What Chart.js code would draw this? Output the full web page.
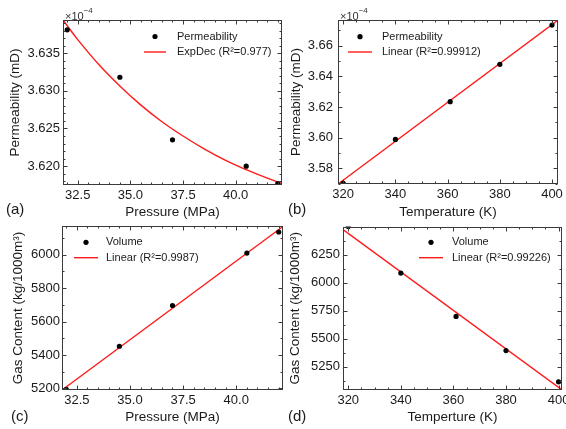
<!DOCTYPE html>
<html>
<head>
<meta charset="utf-8">
<script src="https://cdn.jsdelivr.net/npm/chart.js@4.4.1/dist/chart.umd.min.js"></script>
<style>
    html, body { margin: 0; padding: 0; background: #fff; width: 566px; height: 429px; overflow: hidden; }
    body { position: relative; font-family: 'Liberation Sans', Arial, sans-serif; color: #1a1a1a; }
    canvas { position: absolute; }
    .tag { position: absolute; font-size: 15px; line-height: 1; }
    .mult { position: absolute; font-size: 11px; line-height: 1; color: #333; }
    .mult sup { font-size: 8px; position: relative; top: -2px; }
</style>
</head>
<body>
<canvas id="perm-pressure-chart" width="290" height="222" style="left:0;top:0"></canvas>
<canvas id="perm-temp-chart" width="283" height="222" style="left:283px;top:0"></canvas>
<canvas id="gas-pressure-chart" width="290" height="214" style="left:0;top:215px"></canvas>
<canvas id="gas-temp-chart" width="300" height="214" style="left:283px;top:215px"></canvas>

<div class="mult" style="left:65px;top:9px">×10<sup>−4</sup></div>
<div class="mult" style="left:340px;top:9px">×10<sup>−4</sup></div>
<div class="tag" style="left:6px;top:201px">(a)</div>
<div class="tag" style="left:288px;top:201px">(b)</div>
<div class="tag" style="left:11px;top:408px">(c)</div>
<div class="tag" style="left:288px;top:408px">(d)</div>

<script>
// pressure runs (a, c)
const pressure = [32, 34.5, 37, 40.5, 42];
const permByPressure = [3.6381, 3.6318, 3.6235, 3.6200, 3.6177];
const expDecX = [31.8, 32.5, 33.5, 34.5, 35.5, 36.5, 37.5, 38.5, 39.5, 40.5, 41.5, 42.2];
const expDecY = [3.6394, 3.6368, 3.6335, 3.63065, 3.6281, 3.6259, 3.6240, 3.6223, 3.6208, 3.61953, 3.6184, 3.6177];
const gasByPressure = [5194, 5452, 5696, 6010, 6136];
const gasPressureFitX = [31.8, 42.2];
const gasPressureFitY = [5190, 6169];

// temperature runs (b, d)
const temperature = [320, 340, 361, 380, 400];
const permByTemp = [3.5702, 3.5989, 3.6235, 3.6479, 3.6735];
const permTempFitX = [318, 402.3];
const permTempFitY = [3.5698, 3.6767];
const gasByTemp = [6503, 6086, 5698, 5393, 5113];
const gasTempFitX = [318, 401.3];
const gasTempFitY = [6476, 5041];

// axis ticks
const pressureTicks = [32.5, 35.0, 37.5, 40.0];
const temperatureTicks = [320, 340, 360, 380, 400];
const permPressureTicks = [3.620, 3.625, 3.630, 3.635];
const permTempTicks = [3.58, 3.60, 3.62, 3.64, 3.66];
const gasPressureTicks = [5200, 5400, 5600, 5800, 6000];
const gasTempTicks = [5250, 5500, 5750, 6000, 6250];

const FONT = "'Liberation Sans', Arial, sans-serif";
const INK = '#1a1a1a';

Chart.defaults.font.family = FONT;
Chart.defaults.color = INK;

const toXY = (xs, ys) => xs.map((x, i) => ({ x: x, y: ys[i] }));

// box frame with inward major/minor ticks on all four sides
const frameTicks = {
    id: 'frameTicks',
    afterDatasetsDraw(chart, args, opts) {
        const { ctx, chartArea: a, scales: { x, y } } = chart;
        const L = Math.round(a.left) + 0.5, R = Math.round(a.right) - 0.5;
        const T = Math.round(a.top) + 0.5, B = Math.round(a.bottom) - 0.5;
        ctx.save();
        ctx.strokeStyle = '#3a3a3a';
        ctx.lineWidth = 1;
        ctx.strokeRect(L, T, R - L, B - T);
        ctx.beginPath();
        const markX = (v, len) => {
            const px = Math.round(x.getPixelForValue(v)) + 0.5;
            ctx.moveTo(px, B); ctx.lineTo(px, B - len);
            ctx.moveTo(px, T); ctx.lineTo(px, T + len);
        };
        const markY = (v, len) => {
            const py = Math.round(y.getPixelForValue(v)) + 0.5;
            ctx.moveTo(L, py); ctx.lineTo(L + len, py);
            ctx.moveTo(R, py); ctx.lineTo(R - len, py);
        };
        x.ticks.forEach(t => markX(t.value, 4));
        y.ticks.forEach(t => markY(t.value, 4));
        for (let i = Math.ceil(x.min / opts.xMinor); i * opts.xMinor <= x.max; i++) markX(i * opts.xMinor, 2);
        for (let i = Math.ceil(y.min / opts.yMinor); i * opts.yMinor <= y.max; i++) markY(i * opts.yMinor, 2);
        ctx.stroke();
        ctx.restore();
    }
};

// two-row legend sitting inside the plot
const insetLegend = {
    id: 'insetLegend',
    afterDraw(chart, args, opts) {
        if (!opts || opts.x1 === undefined) return;
        const { ctx } = chart;
        const [pts, fit] = chart.data.datasets;
        ctx.save();
        ctx.fillStyle = pts.pointBackgroundColor;
        ctx.beginPath();
        ctx.arc((opts.x1 + opts.x2) / 2, opts.y, pts.pointRadius, 0, Math.PI * 2);
        ctx.fill();
        ctx.strokeStyle = fit.borderColor;
        ctx.lineWidth = fit.borderWidth;
        ctx.beginPath();
        ctx.moveTo(opts.x1, opts.y + opts.gap);
        ctx.lineTo(opts.x2, opts.y + opts.gap);
        ctx.stroke();
        ctx.font = '11px ' + FONT;
        ctx.fillStyle = INK;
        ctx.textBaseline = 'middle';
        ctx.fillText(pts.label, opts.tx, opts.y);
        ctx.fillText(fit.label, opts.tx, opts.y + opts.gap);
        ctx.restore();
    }
};

Chart.register(frameTicks, insetLegend);

function pointsDataset(label, xs, ys) {
    return {
        label: label,
        data: toXY(xs, ys),
        pointRadius: 2.6,
        pointBackgroundColor: '#000',
        pointBorderWidth: 0,
        showLine: false,
        clip: 0,
    };
}

function fitDataset(label, xs, ys, curved) {
    return {
        label: label,
        data: toXY(xs, ys),
        borderColor: '#ff1a1a',
        borderWidth: 1.4,
        pointRadius: 0,
        showLine: true,
        tension: curved ? 0.4 : 0,
        clip: 0,
    };
}

function panelOptions(p) {
    return {
        responsive: false,
        animation: false,
        events: [],
        layout: { padding: p.padding },
        plugins: {
            legend: { display: false },
            tooltip: { enabled: false },
            frameTicks: { xMinor: p.xMinor, yMinor: p.yMinor },
            insetLegend: p.legend,
        },
        scales: {
            x: {
                type: 'linear',
                min: p.xRange[0],
                max: p.xRange[1],
                grid: { display: false, drawTicks: false },
                border: { display: false },
                afterBuildTicks: s => { s.ticks = p.xTicks.map(v => ({ value: v })); },
                afterFit: s => { s.height = p.xHeight; },
                ticks: {
                    color: INK,
                    font: { size: 13 },
                    padding: 3,
                    maxRotation: 0,
                    autoSkip: false,
                    callback: v => v.toFixed(p.xDigits),
                },
                title: {
                    display: true,
                    text: p.xTitle,
                    color: INK,
                    font: { size: 13.5 },
                    padding: { top: 0, bottom: p.xTitlePad },
                },
            },
            y: {
                type: 'linear',
                min: p.yRange[0],
                max: p.yRange[1],
                grid: { display: false, drawTicks: false },
                border: { display: false },
                afterBuildTicks: s => { s.ticks = p.yTicks.map(v => ({ value: v })); },
                afterFit: s => { s.width = p.yWidth; },
                ticks: {
                    color: INK,
                    font: { size: 13 },
                    padding: p.yTickPad,
                    autoSkip: false,
                    callback: v => v.toFixed(p.yDigits),
                },
                title: {
                    display: true,
                    text: p.yTitle,
                    color: INK,
                    font: { size: 13.5 },
                    padding: { top: p.yTitlePad, bottom: 0 },
                },
            },
        },
    };
}

function createPermPressureChart() {
    const ctx = document.getElementById('perm-pressure-chart')?.getContext('2d');
    if (!ctx) return;
    new Chart(ctx, {
        type: 'scatter',
        data: {
            datasets: [
                pointsDataset('Permeability', pressure, permByPressure),
                fitDataset('ExpDec (R²=0.977)', expDecX, expDecY, true),
            ]
        },
        options: panelOptions({
            padding: { left: 0, top: 20, right: 8, bottom: 0 },
            xRange: [31.8, 42.2], yRange: [3.6175, 3.6394],
            xTicks: pressureTicks, yTicks: permPressureTicks,
            xMinor: 0.5, yMinor: 0.001, xDigits: 1, yDigits: 3,
            xHeight: 37, yWidth: 63, yTickPad: 3,
            xTitle: 'Pressure (MPa)', yTitle: 'Permeability (mD)',
            xTitlePad: 2, yTitlePad: 7,
            legend: { x1: 144, x2: 166, tx: 177, y: 36.5, gap: 15.5 },
        }),
    });
}

function createPermTempChart() {
    const ctx = document.getElementById('perm-temp-chart')?.getContext('2d');
    if (!ctx) return;
    new Chart(ctx, {
        type: 'scatter',
        data: {
            datasets: [
                pointsDataset('Permeability', temperature, permByTemp),
                fitDataset('Linear (R²=0.99912)', permTempFitX, permTempFitY, false),
            ]
        },
        options: panelOptions({
            padding: { left: 0, top: 20, right: 6, bottom: 0 },
            xRange: [318, 402.3], yRange: [3.5698, 3.6768],
            xTicks: temperatureTicks, yTicks: permTempTicks,
            xMinor: 5, yMinor: 0.01, xDigits: 0, yDigits: 2,
            xHeight: 38, yWidth: 55, yTickPad: 5,
            xTitle: 'Temperature (K)', yTitle: 'Permeability (mD)',
            xTitlePad: 2, yTitlePad: 5,
            legend: { x1: 65, x2: 89, tx: 99, y: 36.7, gap: 15.3 },
        }),
    });
}

function createGasPressureChart() {
    const ctx = document.getElementById('gas-pressure-chart')?.getContext('2d');
    if (!ctx) return;
    new Chart(ctx, {
        type: 'scatter',
        data: {
            datasets: [
                pointsDataset('Volume', pressure, gasByPressure),
                fitDataset('Linear (R²=0.9987)', gasPressureFitX, gasPressureFitY, false),
            ]
        },
        options: panelOptions({
            padding: { left: 0, top: 11, right: 7, bottom: 0 },
            xRange: [31.8, 42.2], yRange: [5190, 6172],
            xTicks: pressureTicks, yTicks: gasPressureTicks,
            xMinor: 0.5, yMinor: 100, xDigits: 1, yDigits: 0,
            xHeight: 39, yWidth: 62, yTickPad: 2,
            xTitle: 'Pressure (MPa)', yTitle: 'Gas Content (kg/1000m³)',
            xTitlePad: 4, yTitlePad: 10,
            legend: { x1: 74, x2: 98, tx: 106, y: 27.3, gap: 15.4 },
        }),
    });
}

function createGasTempChart() {
    const ctx = document.getElementById('gas-temp-chart')?.getContext('2d');
    if (!ctx) return;
    new Chart(ctx, {
        type: 'scatter',
        data: {
            datasets: [
                pointsDataset('Volume', temperature, gasByTemp),
                fitDataset('Linear (R²=0.99226)', gasTempFitX, gasTempFitY, false),
            ]
        },
        options: panelOptions({
            padding: { left: 0, top: 11.5, right: 21, bottom: 0 },
            xRange: [318, 401.3], yRange: [5040, 6503],
            xTicks: temperatureTicks, yTicks: gasTempTicks,
            xMinor: 5, yMinor: 125, xDigits: 0, yDigits: 0,
            xHeight: 39, yWidth: 60, yTickPad: 3,
            xTitle: 'Temperture (K)', yTitle: 'Gas Content (kg/1000m³)',
            xTitlePad: 4, yTitlePad: 4.5,
            legend: { x1: 136, x2: 160, tx: 169, y: 27.3, gap: 15.4 },
        }),
    });
}

createPermPressureChart();
createPermTempChart();
createGasPressureChart();
createGasTempChart();
</script>
</body>
</html>
